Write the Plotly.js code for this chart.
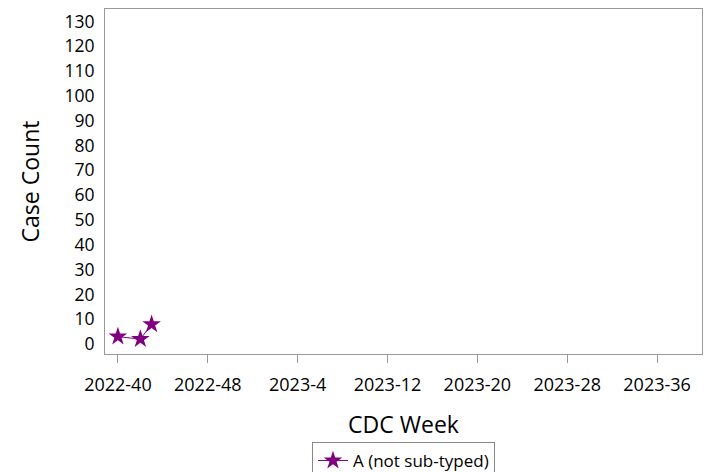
<!DOCTYPE html>
<html>
<head>
<meta charset="utf-8">
<script src="https://cdn.plot.ly/plotly-3.0.1.min.js"></script>
<style>html,body{margin:0;padding:0;background:#fff;}#chart{width:709px;height:472px;}</style>
</head>
<body>
<div id="chart"></div>
<script>
// CDC weeks 2022-40 .. 2023-39
var weeks = [];
for (var w = 40; w <= 52; w++) weeks.push('2022-' + w);
for (var w2 = 1; w2 <= 39; w2++) weeks.push('2023-' + w2);

var seriesName = 'A (not sub-typed)';
var seriesWeeks = ['2022-40', '2022-42', '2022-43'];
var seriesValues = [3, 2, 8];
var tickLabels = ['2022-40', '2022-48', '2023-4', '2023-12', '2023-20', '2023-28', '2023-36'];
var yTicks = [0,10,20,30,40,50,60,70,80,90,100,110,120,130];

var font = 'Open Sans, Segoe UI, sans-serif';
var trace = {
  x: seriesWeeks, y: seriesValues, name: seriesName,
  type: 'scatter', mode: 'lines+markers',
  line: {color: '#800080', width: 1},
  marker: {symbol: 'star', size: 14, color: '#800080'}
};
var layout = {
  width: 709, height: 472,
  margin: {l: 105, r: 7, t: 9, b: 118, autoexpand: false},
  paper_bgcolor: '#fff', plot_bgcolor: '#fff',
  font: {family: font, size: 17, color: '#000'},
  showlegend: true,
  legend: {orientation: 'h', x: 0.5, xanchor: 'center', y: -0.255, yanchor: 'top',
    bordercolor: '#888', borderwidth: 1, font: {size: 17}},
  xaxis: {
    type: 'category', categoryorder: 'array', categoryarray: weeks,
    range: [-1.15, 52], tickmode: 'array', tickvals: tickLabels, ticktext: tickLabels,
    showgrid: false, zeroline: false, showline: true, linecolor: '#999', linewidth: 1, mirror: true,
    ticks: 'outside', ticklen: 8, tickcolor: '#999', ticklabelstandoff: 6,
    tickfont: {size: 18},
    title: {text: 'CDC Week', font: {size: 23}, standoff: 22}
  },
  yaxis: {
    range: [-4, 135], tickmode: 'array', tickvals: yTicks,
    showgrid: false, zeroline: false, showline: true, linecolor: '#999', linewidth: 1, mirror: true,
    ticks: 'outside', ticklen: 6, tickcolor: 'rgba(0,0,0,0)',
    tickfont: {size: 17.5},
    title: {text: 'Case Count', font: {size: 23}, standoff: 18}
  }
};
Plotly.newPlot('chart', [trace], layout, {displayModeBar: false, staticPlot: true});
</script>
</body>
</html>
